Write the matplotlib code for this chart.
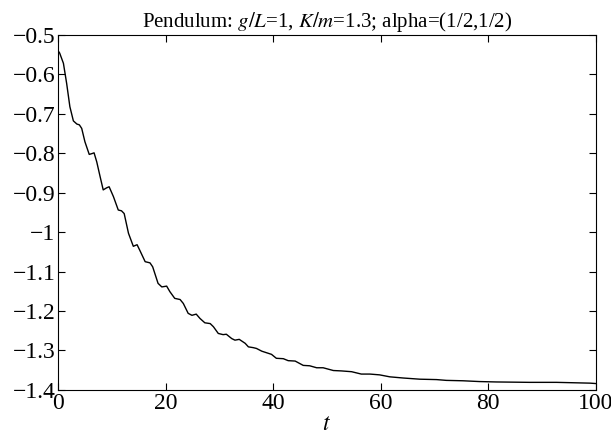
import matplotlib
matplotlib.use("Agg")
import matplotlib.pyplot as plt
from matplotlib.ticker import FuncFormatter

# values
t = [0.0, 0.3, 1.0, 1.6, 2.2, 2.85, 3.5, 3.96, 4.4, 5.0, 5.8, 6.3, 6.7, 7.2, 7.8, 8.4,
     9.0, 9.5, 10.3, 11.2, 11.8, 12.3, 13.1, 14.0, 14.7, 15.2, 16.2, 17.1, 17.6,
     18.6, 19.3, 20.2, 20.8, 21.7, 22.7, 23.3, 24.2, 24.9, 25.7, 26.4, 27.3, 28.3,
     28.9, 29.8, 30.7, 31.3, 32.3, 32.9, 33.7, 34.8, 35.4, 36.3, 36.9, 37.9, 38.8,
     39.7, 40.6, 41.9, 42.8, 44.1, 45.6, 46.8, 48.1, 49.3, 51.2, 52.7, 54.6, 56.4,
     58.0, 59.8, 61.7, 64.2, 67.3, 70.4, 72.2, 75.3, 78.4, 81.5, 87.7, 92.7, 98.9, 100.0]
theta = [-0.540, -0.546, -0.572, -0.623, -0.682, -0.718, -0.726, -0.728, -0.737, -0.771,
         -0.803, -0.801, -0.799, -0.822, -0.858, -0.893, -0.888, -0.885, -0.910, -0.944,
         -0.946, -0.953, -1.003, -1.036, -1.032, -1.046, -1.075, -1.078, -1.088,
         -1.130, -1.139, -1.137, -1.151, -1.168, -1.171, -1.181, -1.206, -1.211,
         -1.208, -1.219, -1.230, -1.232, -1.240, -1.257, -1.260, -1.259, -1.270,
         -1.274, -1.272, -1.282, -1.291, -1.293, -1.295, -1.302, -1.306, -1.310,
         -1.320, -1.321, -1.326, -1.327, -1.338, -1.339, -1.344, -1.344, -1.351,
         -1.352, -1.354, -1.360, -1.360, -1.362, -1.367, -1.370, -1.373, -1.374,
         -1.376, -1.377, -1.379, -1.380, -1.381, -1.381, -1.383, -1.384]

xticks = [0, 20, 40, 60, 80, 100]
yticks = [-0.5, -0.6, -0.7, -0.8, -0.9, -1.0, -1.1, -1.2, -1.3, -1.4]

plt.rcParams['font.family'] = ['Liberation Serif', 'DejaVu Serif']
plt.rcParams['mathtext.fontset'] = 'stix'

fig = plt.figure(figsize=(6.11, 4.42), dpi=100)
ax = fig.add_axes([0.095, 0.118, 0.880, 0.803])
ax.plot(t, theta, color='k', linewidth=1.0)

ax.set_xlim(0, 100)
ax.set_ylim(-1.4, -0.5)
ax.set_xticks(xticks)
ax.set_yticks(yticks)
ax.yaxis.set_major_formatter(FuncFormatter(lambda v, p: ('%g' % v).replace('-', '\u2212')))
ax.tick_params(direction='in', top=True, right=True, labelsize=17, length=5, width=0.8, pad=2)
for s in ax.spines.values():
    s.set_linewidth(0.8)

ax.set_xlabel('$t$', fontsize=17, labelpad=0)
ax.set_title('Pendulum: $g/L$=1, $K/m$=1.3; alpha=(1/2,1/2)', fontsize=15, pad=6)

fig.savefig('out.png', dpi=100)
